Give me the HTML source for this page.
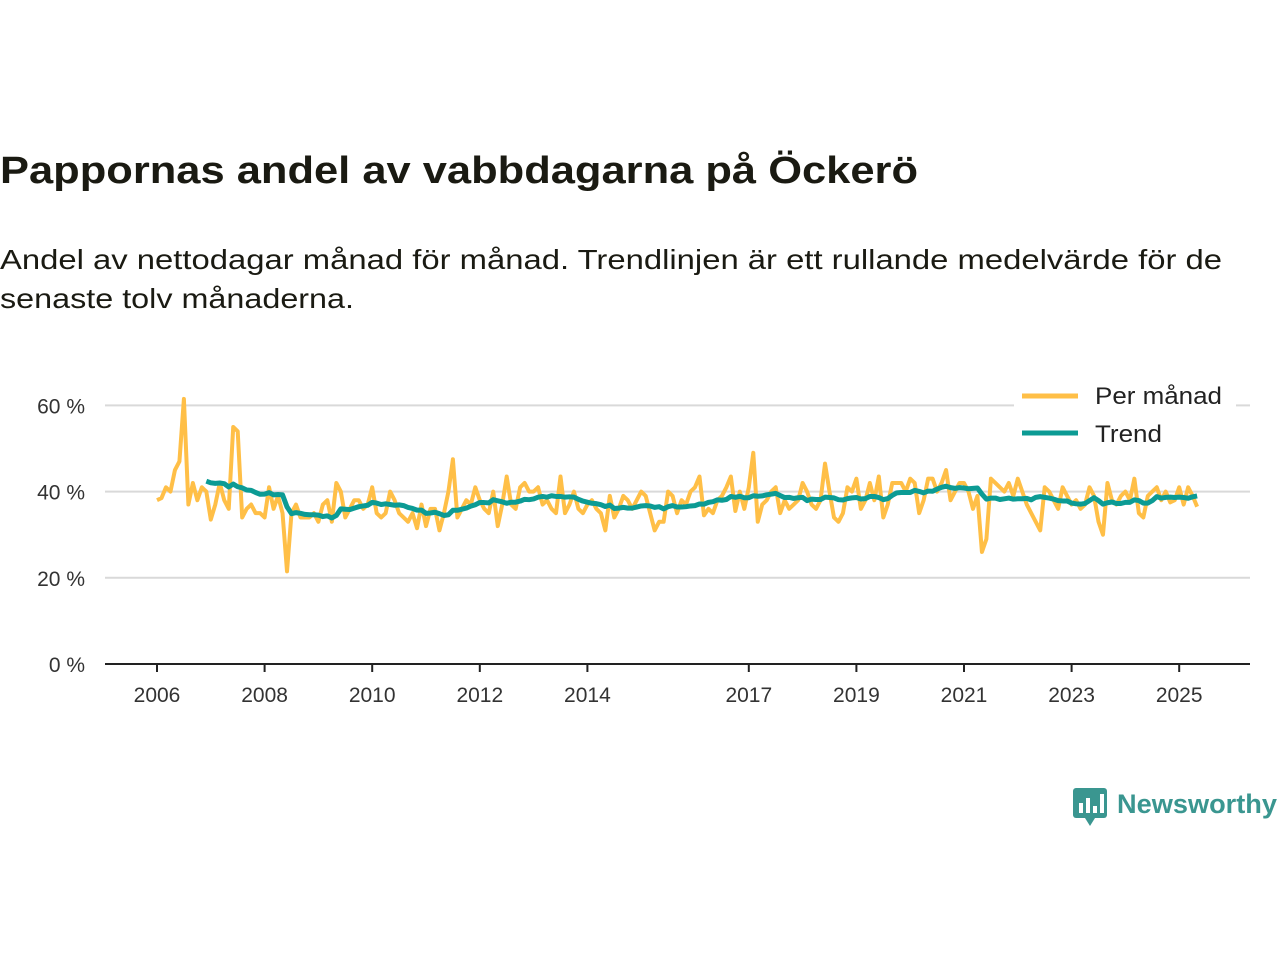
<!DOCTYPE html>
<html><head><meta charset="utf-8"><style>
body{margin:0;background:#fff;width:1280px;height:960px;overflow:hidden;font-family:"Liberation Sans",sans-serif}
</style></head><body>
<svg id="chart" width="1280" height="960" xmlns="http://www.w3.org/2000/svg" font-family="Liberation Sans, sans-serif">
<text x="0" y="183" font-size="38" font-weight="bold" fill="#1a1a12" textLength="918" lengthAdjust="spacingAndGlyphs">Pappornas andel av vabbdagarna på Öckerö</text>
<text x="0" y="269" font-size="28" fill="#1a1a12" textLength="1222" lengthAdjust="spacingAndGlyphs">Andel av nettodagar månad för månad. Trendlinjen är ett rullande medelvärde för de</text>
<text x="0" y="308" font-size="28" fill="#1a1a12" textLength="354" lengthAdjust="spacingAndGlyphs">senaste tolv månaderna.</text>
<g id="grid"></g><g id="series"></g><g id="axes"></g>
<g>
<rect x="1014" y="375" width="222" height="80" fill="#fff"/>
<line x1="1022" y1="396" x2="1078" y2="396" stroke="#ffbf47" stroke-width="5"/>
<text x="1095" y="404" font-size="24" fill="#222" textLength="127" lengthAdjust="spacingAndGlyphs">Per månad</text>
<line x1="1022" y1="433" x2="1078" y2="433" stroke="#0c9b94" stroke-width="5"/>
<text x="1095" y="442" font-size="24" fill="#222" textLength="67" lengthAdjust="spacingAndGlyphs">Trend</text>
</g>
<g>
<rect x="1073" y="788" width="34" height="30" rx="3" fill="#3a9690"/>
<polygon points="1085,818 1095,818 1090,826" fill="#3a9690"/>
<rect x="1079" y="803" width="4" height="10" fill="#fff"/><rect x="1086" y="798" width="4" height="15" fill="#fff"/><rect x="1093" y="806" width="4" height="7" fill="#fff"/><rect x="1100" y="794" width="4" height="19" fill="#fff"/>
<text x="1117" y="813" font-size="27" font-weight="bold" fill="#3a9690" textLength="160" lengthAdjust="spacingAndGlyphs">Newsworthy</text>
</g>
</svg>
<script>
const startYear = 2006;
const yTicks = [0, 20, 40, 60];
const xTickYears = [2006, 2008, 2010, 2012, 2014, 2017, 2019, 2021, 2023, 2025];
const perManad = [
38,38.5,41,40,45,47,61.5,37,42,38,41,40,
33.5,37,42,38,36,55,54,34,36,37,35,35,
34,41,36,39,35,21.5,35,37,34,34,34,35,
33,37,38,33,42,40,34,36,38,38,36,37,
41,35,34,35,40,38,35,34,33,35,31.5,37,
32,36,36,31,35,40,47.5,34,36,38,37,41,
38,36,35,40,32,37,43.5,37,36,41,42,40,
40,41,37,38,36,35,43.5,35,37,40,36,35,
37,38,36,35,31,39,34,36,39,38,36,38,
40,39,35,31,33,33,40,39,35,38,37,40,
41,43.5,34.5,36,35,38,39,41,43.5,35.5,40,36,
41,49,33,37,38,40,41,35,38,36,37,38,
42,40,37,36,38,46.5,40,34,33,35,41,40,
43,36,38,42,38,43.5,34,37,42,42,42,40,
43,42,35,38,43,43,40,42,45,38,40,42,
42,40,36,39,26,29,43,42,41,40,42,39,
43,40,37,35,33,31,41,40,38,36,41,39,
37,38,36,37,41,39,33,30,42,38,37,39,
40,38,43,35,34,39,40,41,38,40,37.5,38,
41,37,41,39,36.5];
const NS="http://www.w3.org/2000/svg";
const X0=157, PXY=53.8, Y0=664, PXP=4.31;
const xs = i => X0 + (i/12)*PXY;
const ys = v => Y0 - v*PXP;
function mk(tag, attrs, parent){const e=document.createElementNS(NS,tag);for(const k in attrs)e.setAttribute(k,attrs[k]);parent.appendChild(e);return e;}
const grid=document.getElementById('grid'), axes=document.getElementById('axes'), series=document.getElementById('series');
yTicks.forEach(t=>{
  if(t>0){const g=mk('line',{x1:105,x2:1250,y1:ys(t),y2:ys(t),stroke:'#d9d9d9','stroke-width':2},grid);
  
  }
  const l=mk('text',{x:85,y:ys(t)+8,'font-size':21,fill:'#333','text-anchor':'end'},axes);
  l.textContent=t+' %';
  
  
});
const base=mk('line',{x1:105,x2:1250,y1:Y0,y2:Y0,stroke:'#222','stroke-width':2},axes);


xTickYears.forEach(yr=>{
  const x=xs((yr-startYear)*12);
  mk('line',{x1:x,x2:x,y1:Y0,y2:Y0+8,stroke:'#222','stroke-width':2},axes);
  const l=mk('text',{x:x,y:Y0+38,'font-size':21,fill:'#333','text-anchor':'middle'},axes);
  l.textContent=yr;
  
  
});
const p1=mk('polyline',{points:perManad.map((v,i)=>xs(i)+','+ys(v)).join(' '),fill:'none',stroke:'#ffbf47','stroke-width':4,'stroke-linejoin':'round'},series);


const trendPts=[];
for(let i=11;i<perManad.length;i++){let s=0;for(let j=i-11;j<=i;j++)s+=perManad[j];trendPts.push(xs(i)+','+ys(s/12));}
const p2=mk('polyline',{points:trendPts.join(' '),fill:'none',stroke:'#0c9b94','stroke-width':5,'stroke-linejoin':'round'},series);


</script>
</body></html>
